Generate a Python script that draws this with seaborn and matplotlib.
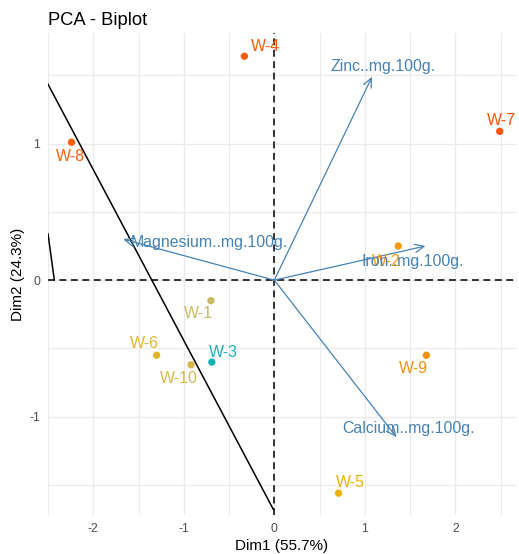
import matplotlib
matplotlib.use("Agg")
import matplotlib.pyplot as plt
import seaborn as sns
import pandas as pd
import numpy as np

# ---- data ----
ind_labels = ["W-1", "W-2", "W-3", "W-4", "W-5", "W-6", "W-7", "W-8", "W-9", "W-10"]
dim1 = [-0.70, 1.37, -0.69, -0.33, 0.71, -1.30, 2.49, -2.24, 1.68, -0.92]
dim2 = [-0.15, 0.25, -0.60, 1.64, -1.56, -0.55, 1.09, 1.01, -0.55, -0.62]
ind_colors = ["#C9B865", "#F29A0E", "#16B1B8", "#FC5A09", "#EBB207",
              "#E3B62A", "#FC5409", "#FC5F08", "#F39210", "#D6B84C"]

var_labels = ["Zinc..mg.100g.", "Magnesium..mg.100g.", "Iron..mg.100g.", "Calcium..mg.100g."]
var_x = [1.08, -1.67, 1.67, 1.35]
var_y = [1.49, 0.30, 0.25, -1.15]

# extra black line segments drawn on the plot
line1_x = [-2.60, -0.01]
line1_y = [1.56, -1.68]
line2_x = [-2.50, -2.43]
line2_y = [0.34, 0.00]

title = "PCA - Biplot"
xlab = "Dim1 (55.7%)"
ylab = "Dim2 (24.3%)"
xticks = [-2, -1, 0, 1, 2]
yticks = [-1, 0, 1]

# label offsets (pixels) - layout only
ind_off = {"W-1": (-13, 13), "W-2": (-12, 15), "W-3": (12, -10), "W-4": (21, -10),
           "W-5": (12, -11), "W-6": (-12, -12), "W-7": (2, -11), "W-8": (-1, 14),
           "W-9": (-13, 13), "W-10": (-12, 14)}
var_off = [(11, 10), (86, -3), (-13, -15), (12, 9)]

# ---- plot ----
sns.set_theme(style="whitegrid")
plt.rcParams["font.family"] = ["Liberation Sans", "DejaVu Sans"]

fig = plt.figure(figsize=(5.19, 5.54), dpi=100)
ax = fig.add_axes([48/519, 39/554, (516-48)/519, (515-33)/554])

ax.set_xlim(-2.47, 2.67)
ax.set_ylim(-1.72, 1.81)

# grid
ax.set_xticks(xticks)
ax.set_yticks(yticks)
ax.set_xticks([-2.5, -1.5, -0.5, 0.5, 1.5, 2.5], minor=True)
ax.set_yticks([-1.5, -0.5, 0.5, 1.5], minor=True)
ax.grid(which="major", color="#EBEBEB", linewidth=1.0)
ax.grid(which="minor", color="#EBEBEB", linewidth=0.8)
ax.set_axisbelow(True)
for s in ax.spines.values():
    s.set_visible(False)
ax.set_facecolor("white")

ax.tick_params(axis="both", which="major", labelsize=8.8, labelcolor="#4D4D4D",
               color="#4D4D4D", length=2.5, width=0.8, pad=3)
ax.tick_params(axis="both", which="minor", length=0)
ax.set_xticklabels([str(t) for t in xticks])
ax.set_yticklabels([str(t) for t in yticks])

# reference dashed lines
ax.axhline(0, color="black", linewidth=1.1, linestyle=(0, (4.5, 3)), zorder=2)
ax.axvline(0, color="black", linewidth=1.1, linestyle=(0, (4.5, 3)), zorder=2)

# black lines
ax.plot(line1_x, line1_y, color="black", linewidth=1.1, zorder=3)
ax.plot(line2_x, line2_y, color="black", linewidth=1.1, zorder=3)

# individuals
df = pd.DataFrame({"Dim1": dim1, "Dim2": dim2, "label": ind_labels})
pal = dict(zip(ind_labels, ind_colors))
sns.scatterplot(data=df, x="Dim1", y="Dim2", hue="label", palette=pal,
                s=28, edgecolor="none", legend=False, ax=ax, zorder=4)
for lab, x, y, c in zip(ind_labels, dim1, dim2, ind_colors):
    dx, dy = ind_off[lab]
    ax.annotate(lab, (x, y), xytext=(dx, -dy), textcoords="offset pixels",
                ha="center", va="center", fontsize=11.4, color=c, zorder=5)

# variables
vcol = "#4682B4"
for lab, x, y, (dx, dy) in zip(var_labels, var_x, var_y, var_off):
    ax.annotate("", xy=(x, y), xytext=(0, 0),
                arrowprops=dict(arrowstyle="->,head_length=0.55,head_width=0.25",
                                color=vcol, lw=0.9, shrinkA=0, shrinkB=0),
                zorder=4)
    ax.annotate(lab, (x, y), xytext=(dx, dy), textcoords="offset pixels",
                ha="center", va="center", fontsize=11.4, color=vcol, zorder=5)

ax.set_xlabel(xlab, fontsize=11, color="black", labelpad=3)
ax.set_ylabel(ylab, fontsize=11, color="black", labelpad=3)
ax.set_title(title, loc="left", fontsize=13.2, color="black", pad=6)

fig.savefig("out.png", dpi=100)
